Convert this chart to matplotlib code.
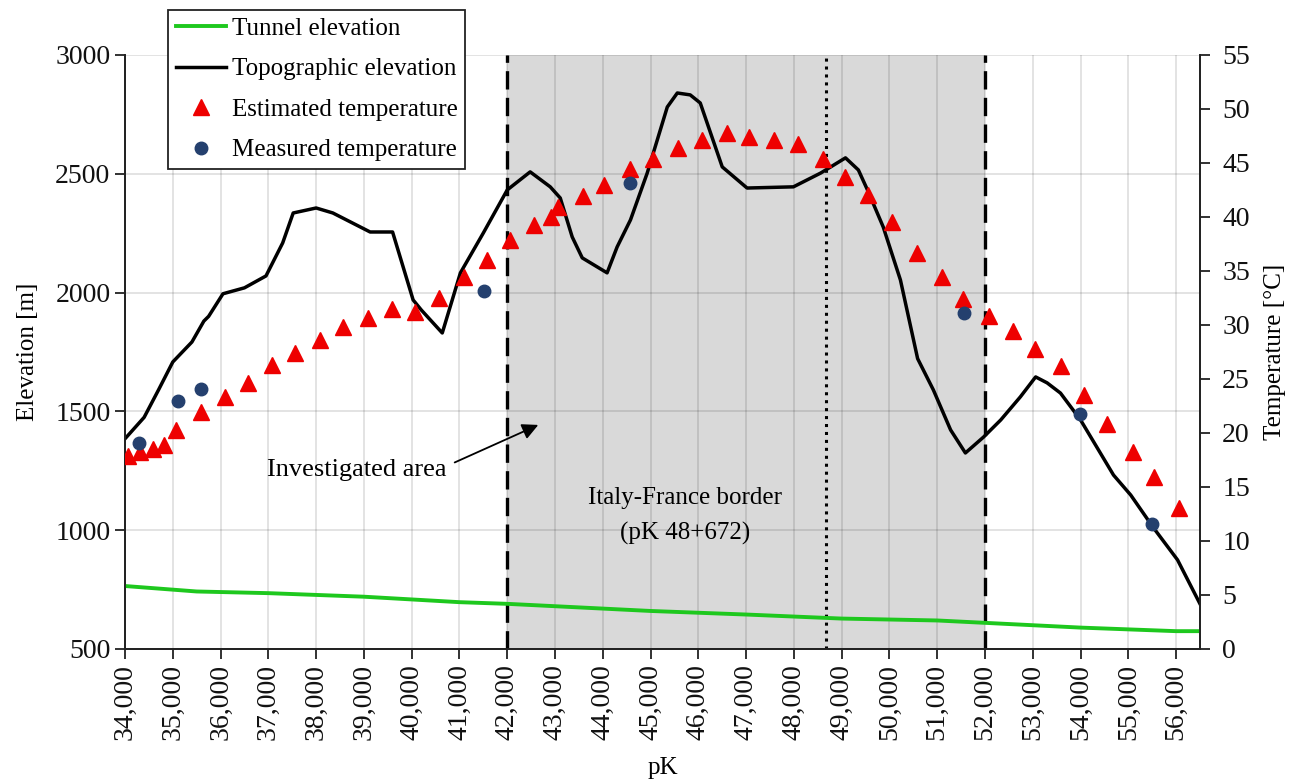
import matplotlib.pyplot as plt
from matplotlib.ticker import MultipleLocator, FuncFormatter
from matplotlib.lines import Line2D

plt.rcParams['font.family'] = ['Liberation Serif', 'DejaVu Serif']

# tunnel elevation [m]
tunnel_pk = [34000, 35500, 37000, 39000, 41000, 42000, 43000, 45000, 47000,
             49000, 51000, 52000, 54000, 56000, 56500]
tunnel_elev = [765, 742, 735, 720, 697, 690, 680, 660, 645,
               628, 620, 610, 590, 575, 575]

# topographic elevation [m]
topo_pk = [34000, 34400, 34700, 35000, 35400, 35650, 35750, 36050, 36500, 36950,
           37300, 37520, 38000, 38350, 39130, 39600, 40030, 40200, 40640, 41020,
           41500, 42000, 42480, 42900, 43110, 43360, 43570, 44090, 44300, 44580,
           44930, 45350, 45560, 45830, 46040, 46500, 47020, 47990, 48560, 49080,
           49350, 49540, 49870, 50230, 50590, 50920, 51280, 51590, 51970, 52330,
           52740, 53060, 53300, 53580, 54000, 54690, 55050, 55530, 56030, 56500]
topo_elev = [1385, 1475, 1590, 1708, 1792, 1880, 1900, 1995, 2020, 2070,
             2209, 2335, 2356, 2335, 2255, 2255, 1969, 1927, 1830, 2083,
             2251, 2432, 2508, 2445, 2398, 2234, 2146, 2083, 2192, 2306,
             2503, 2781, 2840, 2832, 2798, 2529, 2440, 2445, 2503, 2567,
             2516, 2432, 2276, 2053, 1722, 1590, 1422, 1325, 1392, 1464,
             1561, 1645, 1620, 1577, 1464, 1232, 1148, 1009, 875, 690]

# estimated temperature [°C]
est_pk = [34060, 34310, 34590, 34820, 35070, 35590, 36090, 36580, 37080, 37560,
          38080, 38570, 39090, 39590, 40070, 40580, 41100, 41580, 42060, 42550,
          42920, 43070, 43590, 44030, 44580, 45060, 45570, 46080, 46600, 47070,
          47590, 48090, 48600, 49060, 49560, 50060, 50570, 51090, 51550, 52080,
          52580, 53040, 53600, 54080, 54560, 55090, 55530, 56070]
est_temp = [17.9, 18.2, 18.5, 18.9, 20.3, 21.9, 23.3, 24.6, 26.3, 27.4,
            28.6, 29.8, 30.6, 31.5, 31.2, 32.5, 34.4, 36.0, 37.9, 39.3,
            40.0, 40.9, 41.9, 43.0, 44.4, 45.4, 46.4, 47.1, 47.8, 47.4,
            47.1, 46.8, 45.4, 43.7, 42.0, 39.5, 36.7, 34.4, 32.4, 30.8,
            29.4, 27.8, 26.2, 23.5, 20.8, 18.2, 15.9, 13.1]

# measured temperature [°C]
meas_pk = [34290, 35110, 35590, 41520, 44575, 51570, 53980, 55500]
meas_temp = [19.1, 23.0, 24.1, 33.1, 43.1, 31.1, 21.8, 11.6]

area_start, area_end, border = 42000, 52000, 48672

fig = plt.figure(figsize=(12.97, 7.82), dpi=100)
ax = fig.add_axes([0.0964, 0.1701, 0.8288, 0.7596])
ax2 = ax.twinx()

ax.axvspan(area_start, area_end, color='#d9d9d9', zorder=0.2, lw=0)
ax.grid(True, color='black', alpha=0.13, lw=1.2, zorder=0.5)
ax.set_axisbelow(True)

ax.plot(tunnel_pk, tunnel_elev, color='#1ec81e', lw=2.8, zorder=3)
ax.plot(topo_pk, topo_elev, color='black', lw=2.5, zorder=3)
for xv in (area_start, area_end):
    ax.axvline(xv, color='black', lw=2.4, ls=(0, (5.5, 2.5)), zorder=2)
ax.axvline(border, color='black', lw=2.2, ls=(0, (1, 1.6)), zorder=2)

ax2.plot(est_pk, est_temp, ls='none', marker='^', ms=11.5, color='#ee0000', zorder=4)
ax2.plot(meas_pk, meas_temp, ls='none', marker='o', ms=9, color='#24406e', zorder=4)

ax.set_xlim(34000, 56500)
ax.set_ylim(500, 3000)
ax2.set_ylim(0, 55)
ax.xaxis.set_major_locator(MultipleLocator(1000))
ax.yaxis.set_major_locator(MultipleLocator(500))
ax2.yaxis.set_major_locator(MultipleLocator(5))
ax.xaxis.set_major_formatter(FuncFormatter(lambda v, _: f'{int(v):,}'))

for a in (ax, ax2):
    a.spines['top'].set_visible(False)
    for s in a.spines.values():
        s.set_color('#222222')
        s.set_linewidth(1.3)
    a.tick_params(direction='out', length=7, width=1.3, color='#222222',
                  labelsize=20, labelcolor='#111111')
ax.tick_params(axis='x', labelrotation=90, pad=4)
ax2.tick_params(axis='y', pad=9)

ax.set_ylabel('Elevation [m]', fontsize=18, labelpad=12)
ax2.set_ylabel('Temperature [°C]', fontsize=18, labelpad=10)
ax.set_xlabel('pK', fontsize=18, labelpad=12)

ax.text(38860, 1253, 'Investigated area', fontsize=19, ha='center', va='center', zorder=5)
ax.annotate('', xy=(42650, 1443), xytext=(40900, 1285), zorder=5,
            arrowprops=dict(arrowstyle='-|>', color='black', lw=1.3,
                            mutation_scale=24, shrinkA=0, shrinkB=0))
ax.text(45730, 1136, 'Italy-France border', fontsize=18, ha='center', va='center', zorder=5)
ax.text(45730, 988, '(pK 48+672)', fontsize=18, ha='center', va='center', zorder=5)

handles = [Line2D([], [], color='#1ec81e', lw=2.8),
           Line2D([], [], color='black', lw=2.5),
           Line2D([], [], ls='none', marker='^', ms=11.5, color='#ee0000'),
           Line2D([], [], ls='none', marker='o', ms=9, color='#24406e')]
labels = ['Tunnel elevation', 'Topographic elevation',
          'Estimated temperature', 'Measured temperature']
leg = ax2.legend(handles, labels, loc='upper left', bbox_to_anchor=(0.040, 1.076),
                 fontsize=18, frameon=True, fancybox=False, framealpha=1,
                 edgecolor='#222222', handlelength=2.0, handletextpad=0.25,
                 labelspacing=0.72, borderpad=0.3, borderaxespad=0)
leg.get_frame().set_linewidth(1.3)
leg.set_zorder(10)

fig.savefig('out.png', dpi=100)
